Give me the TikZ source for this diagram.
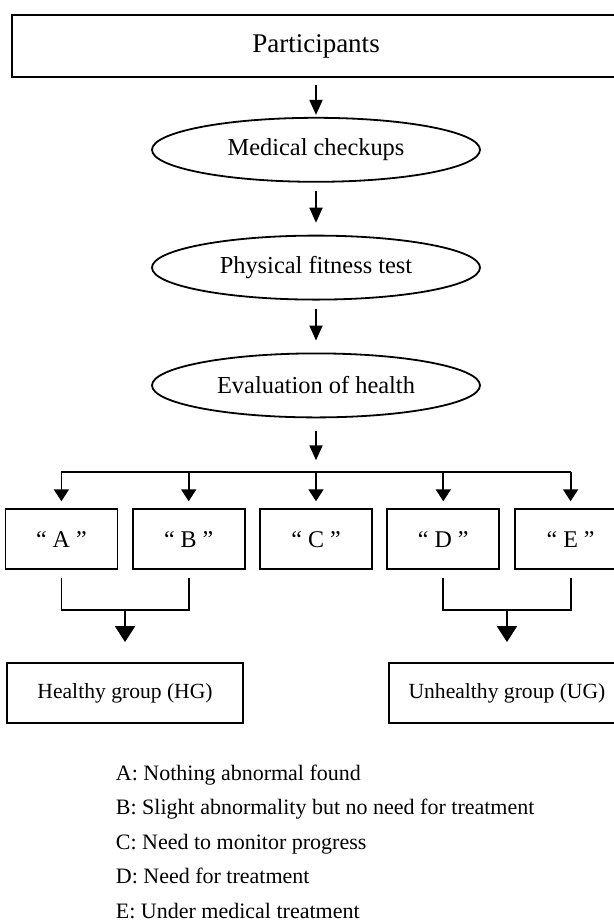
\documentclass[tikz,border=0pt]{standalone}
\usepackage{fontspec}
\setmainfont{Liberation Serif}
\usetikzlibrary{arrows.meta, positioning, shapes.geometric, calc}

\begin{document}
\begin{tikzpicture}[
    x=0.5pt, y=-0.5pt,
    line width=0.9pt,
    box/.style={rectangle, draw=black, align=center, minimum width=304pt, minimum height=31pt, font=\fontsize{13.5}{16}\selectfont},
    oval/.style={ellipse, draw=black, align=center, minimum width=164pt, minimum height=32pt, inner sep=0pt, font=\fontsize{12.2}{14}\selectfont},
    grade/.style={rectangle, draw=black, minimum width=56pt, minimum height=30pt, font=\fontsize{12}{14}\selectfont},
    group/.style={rectangle, draw=black, minimum width=118pt, minimum height=30pt, font=\fontsize{10.8}{13}\selectfont},
    key/.style={anchor=base west, inner sep=0pt, font=\fontsize{11}{13}\selectfont},
    arrow/.style={-{Triangle[length=7.5pt, width=6.5pt]}, shorten <=4pt, shorten >=6pt},
    branch/.style={-{Triangle[length=6pt, width=7.5pt]}, shorten >=3.5pt},
    merge/.style={-{Triangle[length=8pt, width=10pt]}, shorten >=10pt}
]
\clip (0,0) rectangle (614,923);

\node[box] (part) at (316,46) {Participants};
\node[oval, below=19.5pt of part] (checkup) {Medical checkups};
\node[oval, below=26pt of checkup] (fitness) {Physical fitness test};
\node[oval, below=26pt of fitness] (evaluation) {Evaluation of health};
\coordinate[below=27pt of evaluation] (split);

\node[grade, below=18pt of split] (gradeC) {“ C ”};
\node[grade, left=6.75pt of gradeC] (gradeB) {“ B ”};
\node[grade, left=6.75pt of gradeB] (gradeA) {“ A ”};
\node[grade, right=6.75pt of gradeC] (gradeD) {“ D ”};
\node[grade, right=6.75pt of gradeD] (gradeE) {“ E ”};

\coordinate (healthyjoin) at ($(gradeA.south)!0.5!(gradeB.south) + (0,-20pt)$);
\coordinate (unhealthyjoin) at ($(gradeD.south)!0.5!(gradeE.south) + (0,-20pt)$);

\node[group, below=26pt of healthyjoin] (healthy) {Healthy group (HG)};
\node[group, below=26pt of unhealthyjoin] (unhealthy) {Unhealthy group (UG)};

\draw[arrow, shorten <=3.5pt, shorten >=1pt] (part) -- (checkup);
\draw[arrow] (checkup) -- (fitness);
\draw[arrow] (fitness) -- (evaluation);
\draw[arrow, shorten <=6.5pt] (evaluation) -- (split);

\draw (gradeA |- split) -- (gradeE |- split);
\draw[branch] (gradeA |- split) -- (gradeA);
\draw[branch] (gradeB |- split) -- (gradeB);
\draw[branch] (split) -- (gradeC);
\draw[branch] (gradeD |- split) -- (gradeD);
\draw[branch] (gradeE |- split) -- (gradeE);

\draw[shorten <=4pt, shorten >=4pt] (gradeA.south) |- (healthyjoin) -| (gradeB.south);
\draw[shorten <=4pt, shorten >=4pt] (gradeD.south) |- (unhealthyjoin) -| (gradeE.south);
\draw[merge] (healthyjoin) -- (healthy);
\draw[merge] (unhealthyjoin) -- (unhealthy);

\node[key] (keyA) at (115,780) {A: Nothing abnormal found};
\node[key] (keyB) at (115,814.5) {B: Slight abnormality but no need for treatment};
\node[key] (keyC) at (115,849) {C: Need to monitor progress};
\node[key] (keyD) at (115,883.5) {D: Need for treatment};
\node[key] (keyE) at (115,918) {E: Under medical treatment};

\end{tikzpicture}
\end{document}
